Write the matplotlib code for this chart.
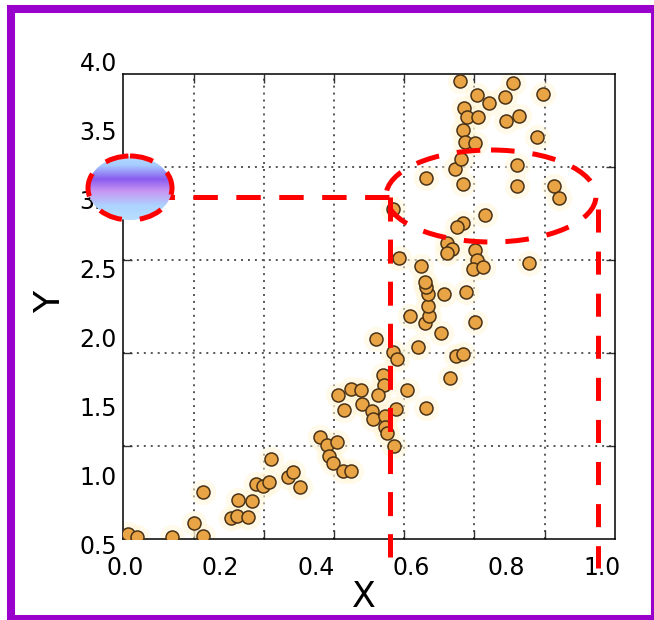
import matplotlib.pyplot as plt
import numpy as np
from matplotlib.colors import LinearSegmentedColormap
from matplotlib.patches import Ellipse, Rectangle

plt.rcParams["lines.scale_dashes"] = False  # dash lengths in points, not x linewidth

# scatter values
x_vals = [0.006, 0.025, 0.099, 0.164, 0.145, 0.164, 0.222, 0.235, 0.237, 0.258,
          0.266, 0.275, 0.289, 0.302, 0.306, 0.342, 0.352, 0.367, 0.409, 0.423,
          0.444, 0.428, 0.436, 0.457, 0.474, 0.447, 0.474, 0.495, 0.459, 0.497,
          0.518, 0.520, 0.526, 0.541, 0.543, 0.530, 0.545, 0.545, 0.549, 0.564,
          0.568, 0.591, 0.562, 0.570, 0.597, 0.614, 0.631, 0.681, 0.694, 0.709,
          0.662, 0.629, 0.637, 0.734, 0.635, 0.635, 0.669, 0.715, 0.631, 0.629,
          0.621, 0.574, 0.675, 0.686, 0.675, 0.734, 0.738, 0.730, 0.751, 0.847,
          0.562, 0.755, 0.709, 0.696, 0.631, 0.709, 0.822, 0.899, 0.910, 0.692,
          0.704, 0.822, 0.709, 0.713, 0.734, 0.864, 0.711, 0.717, 0.740, 0.799,
          0.826, 0.738, 0.763, 0.797, 0.876, 0.702, 0.813]
y_vals = [0.580, 0.558, 0.558, 0.565, 0.659, 0.884, 0.696, 0.710, 0.826, 0.703,
          0.819, 0.942, 0.928, 0.957, 1.123, 0.993, 1.029, 0.920, 1.283, 1.225,
          1.246, 1.145, 1.094, 1.036, 1.036, 1.587, 1.630, 1.623, 1.478, 1.522,
          1.471, 1.413, 1.993, 1.732, 1.659, 1.587, 1.435, 1.355, 1.312, 1.217,
          1.486, 1.623, 1.899, 1.848, 2.159, 1.935, 1.493, 1.710, 1.870, 1.884,
          2.036, 2.109, 2.159, 2.116, 2.232, 2.319, 2.319, 2.333, 2.370, 2.406,
          2.522, 2.580, 2.688, 2.645, 2.616, 2.638, 2.565, 2.500, 2.514, 2.543,
          2.935, 2.891, 2.833, 2.804, 3.159, 3.116, 3.101, 3.101, 3.014, 3.225,
          3.297, 3.254, 3.507, 3.420, 3.413, 3.457, 3.667, 3.601, 3.601, 3.572,
          3.609, 3.761, 3.703, 3.746, 3.768, 3.862, 3.848]

x_tick_values = [0.0, 0.2, 0.4, 0.6, 0.8, 1.0]
x_tick_labels = ["0.0", "0.2", "0.4", "0.6", "0.8", "1.0"]
y_tick_values = [0.5, 1.0, 1.5, 2.0, 2.5, 3.0, 3.5, 4.0]
y_tick_labels = ["0.5", "1.0", "1.5", "2.0", "2.5", "3.0", "3.5", "4.0"]

x_range = (-0.0036, 1.0273)
y_range = (0.5413, 3.9109)

fig = plt.figure(figsize=(6.54, 6.20), dpi=100)
ax = fig.add_axes([0.1885, 0.1302, 0.7518, 0.75])
ax.set_xlim(*x_range)
ax.set_ylim(*y_range)

# grid is 7 x 5 cells, independent of the labels
ax.set_xticks(np.linspace(*x_range, 8)[1:-1])
ax.set_yticks(np.linspace(*y_range, 6)[1:-1])
ax.tick_params(direction="in", length=6.5, width=1, top=True, right=True,
               labelbottom=False, labelleft=False, color="#333333")
ax.grid(True, linestyle=(0, (1.4, 3.6)), linewidth=1.4, color="#555555")
for sp in ax.spines.values():
    sp.set_linewidth(1.1)

# faint glow + markers
ax.scatter(x_vals, y_vals, s=330, c="#fff6d6", alpha=0.5, linewidths=0, zorder=2)
ax.scatter(x_vals, y_vals, s=88, c="#e8a445", edgecolors="#4a3216",
           linewidths=1.1, zorder=3)

# tick labels sit on their own scale (they do not line up with the grid)
for v, lab in zip(x_tick_values, x_tick_labels):
    ax.annotate(lab, xy=(v, 0), xycoords=ax.get_xaxis_transform(),
                xytext=(0, -35.7), textcoords="offset pixels",
                ha="center", va="baseline", fontsize=17, annotation_clip=False)
for v, lab in zip(y_tick_values, y_tick_labels):
    ax.annotate(lab, xy=(0, v), xycoords=ax.get_yaxis_transform(),
                xytext=(-6.3, -8.8), textcoords="offset pixels",
                ha="right", va="baseline", fontsize=17, annotation_clip=False)

ax.set_xlabel("X", fontsize=25)
ax.xaxis.label.set_va("center")
ax.xaxis.set_label_coords(0.4895, -0.124)
ax.set_ylabel("Y", fontsize=26)
ax.yaxis.label.set_va("center")
ax.yaxis.set_label_coords(-0.149, 0.51)

# overlay drawn in pixel space
ov = fig.add_axes([0, 0, 1, 1])

ov.plot([150, 390], [197, 197], color="red", lw=3.6, ls=(0, (17.6, 13.3)), zorder=2)
ov.plot([390, 390], [197, 557], color="red", lw=3.6, ls=(0, (17.3, 13.0)), zorder=2)
ov.plot([598, 598], [209, 568], color="red", lw=3.6, ls=(0, (16.6, 13.7)), zorder=2)
ov.add_patch(Ellipse((491, 196), 210, 92, fill=False, edgecolor="red",
                     lw=3.6, ls=(0, (17, 13)), zorder=4))

grad_cmap = LinearSegmentedColormap.from_list(
    "blob", [(0.0, "#b4dcff"), (0.14, "#a6ccff"), (0.36, "#8a5cf0"),
             (0.55, "#c896f2"), (0.78, "#acd4ff"), (1.0, "#b8deff")])
grad = np.linspace(0, 1, 200).reshape(-1, 1)
clip_ell = Ellipse((130, 188), 84, 64, transform=ov.transData)
im = ov.imshow(grad, cmap=grad_cmap, extent=(88, 172, 220, 156), aspect="auto",
               interpolation="bilinear", zorder=3)
im.set_clip_path(clip_ell)
ov.add_patch(Ellipse((130, 188), 84, 64, fill=False, edgecolor="red",
                     lw=3.6, ls=(0, (17, 13)), zorder=4))

ov.add_patch(Rectangle((11, 8.5), 644, 610.5, fill=False, edgecolor="#9900cc",
                       lw=5.8, zorder=5))

ov.set_xlim(0, 654)
ov.set_ylim(620, 0)
ov.axis("off")

fig.savefig("out.png", dpi=100)
